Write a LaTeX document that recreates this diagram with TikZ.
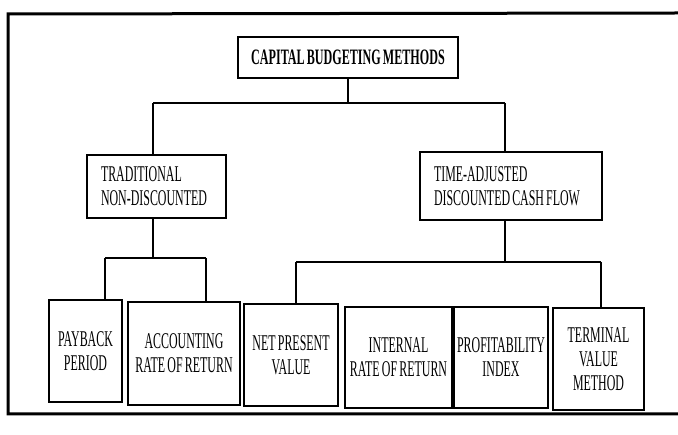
\documentclass[tikz,border=0pt]{standalone}
\usepackage{fontspec}
\newfontfamily\bodyfont[FakeStretch=0.53,WordSpace=0.7]{Liberation Serif}
\newfontfamily\titlefont[FakeStretch=0.55,WordSpace=0.7]{Liberation Serif Bold}
\begin{document}
\begin{tikzpicture}[x=1pt,y=1pt,
  box/.style={draw=black,line width=1.8pt,inner sep=0pt,font=\bodyfont\fontsize{22.5}{24}\selectfont,
    execute at begin node={\spaceskip=0pt\xspaceskip=0pt\relax}},
  midbox/.style={box,align=left,inner xsep=14pt},
  leaf/.style={box,align=center},
  conn/.style={line width=1.5pt}]
\useasboundingbox (0,0) rectangle (678,-435);
\draw[line width=3pt] (678,-13) -- (8,-14) -- (8,-414) -- (678,-414);
\node[box,minimum width=220pt,minimum height=41pt,font=\titlefont\fontsize{22}{24}\selectfont] (title) at (348,-57.5) {CAPITAL BUDGETING METHODS};
\node[midbox,text width=111pt,minimum height=63pt] (trad) at (156.5,-186.5) {TRADITIONAL\\NON-DISCOUNTED};
\node[midbox,text width=154pt,minimum height=68pt] (time) at (511,-186) {TIME-ADJUSTED\\DISCOUNTED CASH FLOW};
\node[leaf,text width=73pt,minimum height=102pt] (pay) at (85.5,-351) {PAYBACK\\PERIOD};
\node[leaf,text width=112pt,minimum height=103pt] (acc) at (184,-353.5) {ACCOUNTING\\RATE OF RETURN};
\node[leaf,text width=94pt,minimum height=102pt] (npv) at (291,-355) {NET PRESENT\\VALUE};
\node[leaf,text width=107pt,minimum height=101pt] (irr) at (398.5,-357.5) {INTERNAL\\RATE OF RETURN};
\node[leaf,text width=94pt,minimum height=101pt] (pi) at (501,-357.5) {PROFITABILITY\\INDEX};
\node[leaf,text width=91pt,minimum height=102pt] (tv) at (598.5,-359) {TERMINAL\\VALUE\\METHOD};
\coordinate (jA) at (153,-103);
\coordinate (jB) at (505,-103);
\coordinate (jL) at (105,-258);
\coordinate (jR) at (206,-258);
\coordinate (jN) at (296,-262);
\coordinate (jT) at (601,-262);
\draw[conn] (title.south) -- (title.south |- jA);
\draw[conn] (jA) -- (jB);
\draw[conn] (jA) -- (jA |- trad.north);
\draw[conn] (jB) -- (jB |- time.north);
\draw[conn] (trad.south -| jA) -- (jA |- jL);
\draw[conn] (jL) -- (jR);
\draw[conn] (jL) -- (jL |- pay.north);
\draw[conn] (jR) -- (jR |- acc.north);
\draw[conn] (time.south -| jB) -- (jB |- jN);
\draw[conn] (jN) -- (jT);
\draw[conn] (jN) -- (jN |- npv.north);
\draw[conn] (jT) -- (jT |- tv.north);
\end{tikzpicture}
\end{document}
